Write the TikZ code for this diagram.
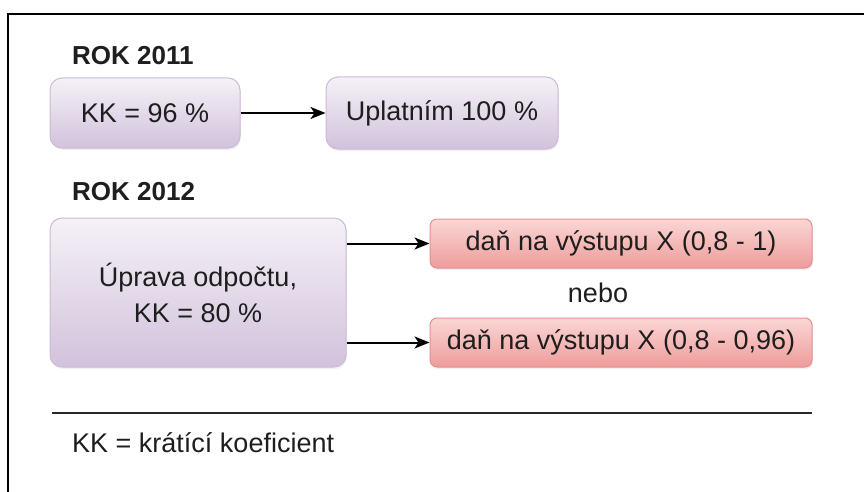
\documentclass[tikz,border=0pt]{standalone}
\usepackage{fontspec}
\setmainfont{Liberation Sans}
\usepackage{tikz}
\usetikzlibrary{positioning,arrows.meta,shadows}

\definecolor{lilatop}{HTML}{F5F1F7}
\definecolor{lilabot}{HTML}{D2C2DC}
\definecolor{lilaline}{HTML}{CDB9D8}
\definecolor{redtop}{HTML}{FAD6D5}
\definecolor{redbot}{HTML}{EE9C9A}
\definecolor{redline}{HTML}{E2918F}
\definecolor{textgray}{HTML}{1E1E1E}

\begin{document}
\begin{tikzpicture}[x=1pt, y=-1pt, node distance=10pt, auto,
    lilabox/.style={draw=lilaline, line width=1pt, rectangle, rounded corners=12pt, top color=lilatop, bottom color=lilabot, text=textgray, align=center, inner sep=0pt, font=\fontsize{27}{36}\selectfont, drop shadow={opacity=0.12, shadow xshift=1pt, shadow yshift=-2pt}},
    redbox/.style={draw=redline, line width=1pt, rectangle, rounded corners=7pt, top color=redtop, bottom color=redbot, text=textgray, inner sep=0pt, minimum width=382pt, minimum height=49pt, font=\fontsize{27}{32}\selectfont, drop shadow={opacity=0.12, shadow xshift=1pt, shadow yshift=-2pt}},
    yeartitle/.style={anchor=west, inner sep=0pt, text=textgray, font=\fontsize{26}{30}\selectfont\bfseries},
    plaintext/.style={inner sep=0pt, text=textgray, font=\fontsize{27}{32}\selectfont},
    flow/.style={-{Stealth[length=15pt,width=12pt,inset=4pt]}, line width=2pt, black}]
    \useasboundingbox (0,0) rectangle (864,492);
    % frame
    \coordinate (frametop) at (864,14);
    \coordinate (framecorner) at (8,14);
    \coordinate (framebottom) at (8,492);
    \draw [line width=2pt] (frametop) -- (framecorner) -- (framebottom);

    % rok 2011
    \node [yeartitle] (rok2011) at (72,56) {ROK 2011};
    \node [lilabox, minimum width=190pt, minimum height=70pt] (kk96) at (145,113) {KK = 96 \%};
    \node [lilabox, right=85pt of kk96, minimum width=232pt, minimum height=72pt] (uplat) {Uplatním 100 \%};
    \draw [flow] (kk96) -- (uplat);

    % rok 2012
    \node [yeartitle] (rok2012) at (72,192) {ROK 2012};
    \node [lilabox, minimum width=296pt, minimum height=149pt] (uprava) at (198,292.5) {Úprava odpočtu,\\ KK = 80 \%};
    \node [redbox] (dan1) at (621,243.5) {daň na výstupu X (0,8 - 1)};
    \node [redbox] (dan2) at (621,342.5) {daň na výstupu X (0,8 - 0,96)};
    \node [plaintext] (nebo) at (598,293) {nebo};
    \draw [flow] (uprava.east |- dan1) -- (dan1);
    \draw [flow] (uprava.east |- dan2) -- (dan2);

    % legenda
    \coordinate (lineleft) at (52,413);
    \coordinate (lineright) at (812,413);
    \draw [line width=1.8pt, black!85] (lineleft) -- (lineright);
    \node [plaintext, anchor=west] (legend) at (72,443) {KK = krátící koeficient};
\end{tikzpicture}
\end{document}
